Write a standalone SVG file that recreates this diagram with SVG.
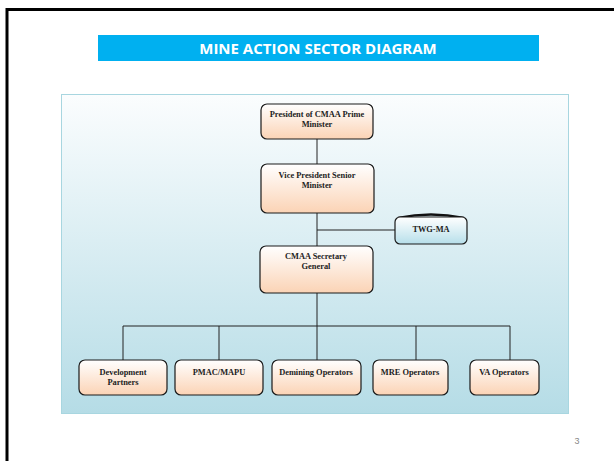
<svg xmlns="http://www.w3.org/2000/svg" width="614" height="461" viewBox="0 0 614 461">
<defs>
<linearGradient id="bg" x1="0" y1="0" x2="0" y2="1"><stop offset="0" stop-color="#FBFDFE"/><stop offset="1" stop-color="#B5DCE6"/></linearGradient>
<linearGradient id="peach" x1="0" y1="0" x2="0" y2="1"><stop offset="0" stop-color="#FFFFFF"/><stop offset="1" stop-color="#FBD3B5"/></linearGradient>
<linearGradient id="blue" x1="0" y1="0" x2="0" y2="1"><stop offset="0" stop-color="#FFFFFF"/><stop offset="1" stop-color="#B7DFEA"/></linearGradient>
<style>
.n{fill:url(#peach);stroke:#1a1a1a;stroke-width:1.2}
.t{font-family:"Liberation Serif","DejaVu Serif",serif;font-weight:bold;font-size:8.4px;fill:#222;text-anchor:middle}
.c{stroke:#222;stroke-width:1;fill:none}
</style>
</defs>
<rect x="0" y="0" width="614" height="461" fill="#fff"/>
<rect x="7" y="9.5" width="620" height="470" fill="none" stroke="#000" stroke-width="3"/>
<rect x="98" y="35" width="441" height="26" fill="#00B0F0"/>
<text x="318" y="53.5" font-family="'Open Sans','Liberation Sans',sans-serif" font-weight="bold" font-size="15" fill="#fff" text-anchor="middle">MINE ACTION SECTOR DIAGRAM</text>
<rect x="61.5" y="94.5" width="507" height="319" fill="url(#bg)" stroke="#A8D6E0" stroke-width="1"/>
<g id="connectors">
<path class="c" d="M317 139V164M317 213V246M317 293V326M317 230H395M123 326H510M123 326V360M219 326V360M317 326V360M416 326V360M510 326V360"/>
</g>
<g id="president"><rect class="n" x="261" y="104" width="112" height="35" rx="6"/><text class="t" x="317" y="117">President of CMAA Prime</text><text class="t" x="317" y="126.5">Minister</text></g>
<g id="vice"><rect class="n" x="261" y="164" width="113" height="49" rx="6"/><text class="t" x="317" y="178">Vice President Senior</text><text class="t" x="317" y="188">Minister</text></g>
<g id="twg"><path d="M398 218Q431 211 464 218" stroke="#111" stroke-width="2.5" fill="none"/><rect x="395" y="217" width="72" height="27" rx="5" fill="url(#blue)" stroke="#1a1a1a" stroke-width="1.2"/><text class="t" x="431" y="232">TWG-MA</text></g>
<g id="secretary"><rect class="n" x="260" y="246" width="113" height="47" rx="6"/><text class="t" x="316" y="259">CMAA Secretary</text><text class="t" x="316" y="269">General</text></g>
<g id="dev"><rect class="n" x="79" y="360" width="88" height="35" rx="6"/><text class="t" x="123" y="375">Development</text><text class="t" x="123" y="384.5">Partners</text></g>
<g id="pmac"><rect class="n" x="175" y="360" width="88" height="35" rx="6"/><text class="t" x="219" y="375">PMAC/MAPU</text></g>
<g id="demining"><rect class="n" x="272" y="360" width="89" height="35" rx="6"/><text class="t" x="316" y="375">Demining Operators</text></g>
<g id="mre"><rect class="n" x="373" y="360" width="75" height="35" rx="6"/><text class="t" x="410" y="375">MRE Operators</text></g>
<g id="va"><rect class="n" x="470" y="360" width="69" height="35" rx="6"/><text class="t" x="504" y="375">VA Operators</text></g>
<text x="577" y="444" font-family="'Liberation Sans',sans-serif" font-size="9" fill="#888" text-anchor="middle">3</text>
</svg>
